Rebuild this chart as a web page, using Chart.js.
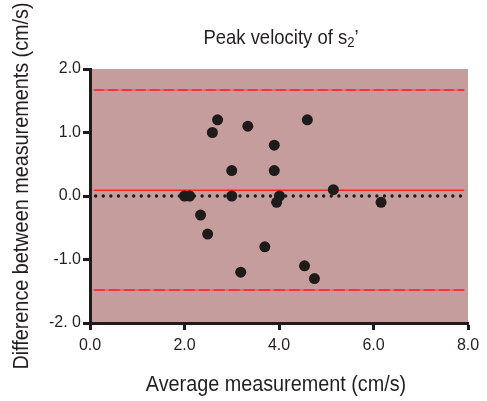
<!DOCTYPE html>
<html>
<head>
<meta charset="utf-8">
<script src="https://cdn.jsdelivr.net/npm/chart.js@4"></script>
<style>
  body { margin: 0; background: #fff; }
  canvas { display: block; }
</style>
</head>
<body>
<canvas id="baChart" width="487" height="401"></canvas>
<script>
// Bland-Altman data: mean of the two measurements vs. their difference
const avgValues  = [2.70, 2.59, 3.34, 4.60, 3.90, 3.00, 3.90, 2.00, 2.11, 3.00, 4.01, 3.95, 5.15, 2.34, 2.49, 3.70, 3.19, 4.54, 4.75, 6.16];
const diffValues = [1.2, 1.0, 1.1, 1.2, 0.8, 0.4, 0.4, 0.0, 0.0, 0.0, 0.0, -0.1, 0.1, -0.3, -0.6, -0.8, -1.2, -1.1, -1.3, -0.1];

// bias and limits of agreement
const upperLimit = 1.67;
const meanDiff = 0.09;
const lowerLimit = -1.48;
const limitSpan = [0.08, 7.92];
const zeroSpan = [0.12, 8.0];

const xTicks = [0, 2, 4, 6, 8];
const xTickLabels = ['0.0', '2.0', '4.0', '6.0', '8.0'];
const yTicks = [-2, -1, 0, 1, 2];
const yTickLabels = ['-2. 0', '-1.0', '0.0', '1.0', '2.0'];

const TEXT = '#231f20';
const RED = '#ff2424';
const RED_SOFT = '#ea5c5c';
const FONT = '"Liberation Sans", Arial, sans-serif';

function hLine(y, span) {
  return span.map(x => ({ x: x, y: y }));
}

// a limit line: pale solid underlay with a brighter dashed stroke on top
function limitLine(y, dash) {
  return [
    {
      type: 'line',
      data: hLine(y, limitSpan),
      borderColor: RED,
      borderWidth: 1.6,
      borderDash: dash,
      pointRadius: 0,
      order: 1
    },
    {
      type: 'line',
      data: hLine(y, limitSpan),
      borderColor: RED_SOFT,
      borderWidth: 1.6,
      pointRadius: 0,
      order: 2
    }
  ];
}

const points = avgValues.map((x, i) => ({ x: x, y: diffValues[i] }));

// shaded plot area
const plotBackground = {
  id: 'plotBackground',
  beforeDraw(chart) {
    const { ctx, chartArea: a } = chart;
    ctx.save();
    ctx.fillStyle = '#c69d9d';
    ctx.fillRect(a.left, a.top, a.right - a.left, a.bottom - a.top);
    ctx.restore();
  }
};

// title with subscript and the two axis titles
const chartText = {
  id: 'chartText',
  afterDraw(chart) {
    const ctx = chart.ctx;
    ctx.save();
    ctx.fillStyle = TEXT;
    ctx.textBaseline = 'alphabetic';

    // title: "Peak velocity of s2'"
    ctx.save();
    ctx.translate(281, 44);
    ctx.scale(0.88, 1);
    const main = 'Peak velocity of s';
    ctx.font = '21px ' + FONT;
    const wMain = ctx.measureText(main).width;
    ctx.font = '15px ' + FONT;
    const wSub = ctx.measureText('2').width;
    ctx.font = '21px ' + FONT;
    const wQ = ctx.measureText('\u2019').width;
    let x = -(wMain + wSub + wQ) / 2;
    ctx.textAlign = 'left';
    ctx.fillText(main, x, 0);
    x += wMain;
    ctx.font = '15px ' + FONT;
    ctx.fillText('2', x, 3);
    x += wSub;
    ctx.font = '21px ' + FONT;
    ctx.fillText('\u2019', x, 0);
    ctx.restore();

    // x axis title
    ctx.save();
    ctx.translate(276, 391);
    ctx.scale(0.9, 1);
    ctx.font = '22px ' + FONT;
    ctx.textAlign = 'center';
    ctx.fillText('Average measurement (cm/s)', 0, 0);
    ctx.restore();

    // y axis title
    ctx.save();
    ctx.translate(28, 186);
    ctx.rotate(-Math.PI / 2);
    ctx.scale(0.9, 1);
    ctx.font = '22px ' + FONT;
    ctx.textAlign = 'center';
    ctx.fillText('Difference between measurements (cm/s)', 0, 0);
    ctx.restore();

    ctx.restore();
  }
};

new Chart(document.getElementById('baChart'), {
  type: 'scatter',
  data: {
    datasets: [
      {
        data: points,
        pointRadius: 5.5,
        pointHoverRadius: 5.5,
        pointBackgroundColor: '#1f1b1b',
        pointBorderWidth: 0,
        order: 0
      },
      ...limitLine(upperLimit, [10, 4]),
      {
        type: 'line',
        data: hLine(meanDiff, limitSpan),
        borderColor: RED,
        borderWidth: 1.6,
        pointRadius: 0,
        order: 1
      },
      ...limitLine(lowerLimit, [11, 4]),
      {
        type: 'line',
        data: hLine(0, zeroSpan),
        borderColor: '#1f1b1b',
        borderWidth: 3.4,
        borderDash: [0, 7.6],
        borderCapStyle: 'round',
        pointRadius: 0,
        order: 3
      }
    ]
  },
  options: {
    responsive: false,
    animation: false,
    layout: { padding: { top: 69, right: 19, bottom: 0, left: 0 } },
    plugins: {
      legend: { display: false },
      tooltip: { enabled: false }
    },
    scales: {
      x: {
        type: 'linear',
        min: 0,
        max: 8,
        afterFit(scale) { scale.height = 78; },
        afterBuildTicks(scale) { scale.ticks = xTicks.map(v => ({ value: v })); },
        border: { color: '#1f1b1b', width: 3 },
        grid: { drawOnChartArea: false, tickLength: 7, tickWidth: 3, tickColor: '#1f1b1b' },
        ticks: {
          color: TEXT,
          padding: 6,
          maxRotation: 0,
          font: { family: FONT, size: 16 },
          callback: (v) => xTickLabels[xTicks.indexOf(v)]
        }
      },
      y: {
        type: 'linear',
        min: -2,
        max: 2,
        afterFit(scale) { scale.width = 90; },
        afterBuildTicks(scale) { scale.ticks = yTicks.map(v => ({ value: v })); },
        border: { color: '#1f1b1b', width: 3 },
        grid: { drawOnChartArea: false, tickLength: 7, tickWidth: 3, tickColor: '#1f1b1b' },
        ticks: {
          color: TEXT,
          padding: 2,
          font: { family: FONT, size: 16 },
          callback: (v) => yTickLabels[yTicks.indexOf(v)]
        }
      }
    }
  },
  plugins: [plotBackground, chartText]
});
</script>
</body>
</html>
